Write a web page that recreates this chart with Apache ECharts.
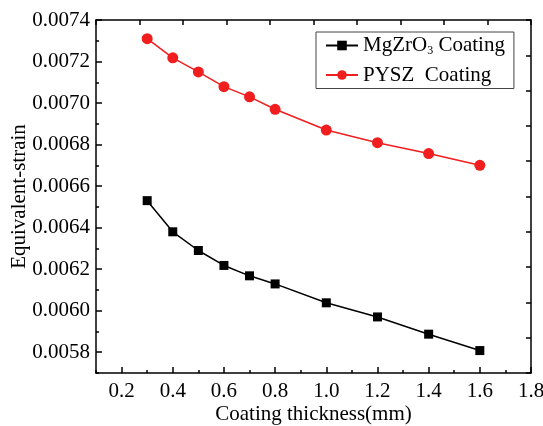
<!DOCTYPE html>
<html>
<head>
<meta charset="utf-8">
<script src="https://cdn.jsdelivr.net/npm/echarts@6/dist/echarts.min.js"></script>
<style>
  html, body { margin: 0; padding: 0; background: #fff; }
  #chart { width: 543px; height: 426px; }
</style>
</head>
<body>
<div id="chart"></div>
<script>
// 涂层厚度 (mm)
const thickness = [0.3, 0.4, 0.5, 0.6, 0.7, 0.8, 1.0, 1.2, 1.4, 1.6]
// 两种涂层的等效应变
const mgzro3Strain = [0.00653, 0.00638, 0.00629, 0.006218, 0.006168, 0.006129, 0.006038, 0.00597, 0.005887, 0.005808]
const pyszStrain = [0.00731, 0.007218, 0.00715, 0.007079, 0.00703, 0.00697, 0.00687, 0.006809, 0.006757, 0.0067]
// 刻度标签
const xTicks = [0.2, 0.4, 0.6, 0.8, 1.0, 1.2, 1.4, 1.6, 1.8]
const yTicks = [0.0058, 0.0060, 0.0062, 0.0064, 0.0066, 0.0068, 0.0070, 0.0072, 0.0074]

const serif = '"Liberation Serif", "DejaVu Serif", serif'
const chart = echarts.init(document.getElementById('chart'))

const pairs = (ys) => thickness.map((x, i) => [x, ys[i]])

const option = {
  backgroundColor: '#fff',
  animation: false,
  // 固定绘图区位置，不让标签挤压
  grid: { left: 96, right: 12, top: 20, bottom: 53, outerBoundsMode: 'none', containLabel: false },
  legend: {
    orient: 'vertical',
    left: 316,
    top: 32,
    padding: [3, 9, 3, 9],
    itemGap: 8,
    itemWidth: 32,
    itemHeight: 12,
    borderColor: '#444',
    borderWidth: 1,
    backgroundColor: '#fff',
    data: ['MgZrO3 Coating', 'PYSZ  Coating'],
    formatter: (name) => name === 'MgZrO3 Coating' ? '{a|MgZrO}{s|3}{a| Coating}' : '{a|' + name + '}',
    textStyle: {
      color: '#000',
      fontFamily: serif,
      rich: {
        a: { fontSize: 21, fontFamily: serif, color: '#000', lineHeight: 21 },
        s: { fontSize: 12, fontFamily: serif, color: '#000', padding: [10, 0, 0, 0] }
      }
    }
  },
  xAxis: [
    { // 主刻度
      type: 'value', position: 'bottom', min: 0.1, max: 1.8,
      name: 'Coating thickness(mm)', nameLocation: 'middle', nameGap: 31, nameMoveOverlap: false,
      nameTextStyle: { fontFamily: serif, fontSize: 21, color: '#000' },
      axisLine: { show: true, lineStyle: { color: '#000', width: 1.5 } },
      axisTick: { show: true, inside: true, length: 6, customValues: xTicks, lineStyle: { color: '#000', width: 1.5 } },
      axisLabel: { customValues: xTicks, formatter: (v) => v.toFixed(1), fontFamily: serif, fontSize: 21, color: '#000', margin: 8 },
      splitLine: { show: false }
    },
    { // 次刻度
      type: 'value', position: 'bottom', min: 0.1, max: 1.8, interval: 0.1,
      axisLine: { show: false },
      axisTick: { show: true, inside: true, length: 3, lineStyle: { color: '#000', width: 1.5 } },
      axisLabel: { show: false }, splitLine: { show: false }
    },
    { // 顶部镜像轴
      type: 'value', position: 'top', min: 0, max: 10, interval: 1,
      axisLine: { show: true, lineStyle: { color: '#000', width: 1.5 } },
      axisTick: { show: true, inside: true, length: 5, lineStyle: { color: '#000', width: 1.5 } },
      axisLabel: { show: false }, splitLine: { show: false }
    }
  ],
  yAxis: [
    {
      type: 'value', position: 'left', min: 0.0057, max: 0.0074,
      name: 'Equivalent-strain', nameLocation: 'middle', nameGap: 66, nameRotate: 90, nameMoveOverlap: false,
      nameTextStyle: { fontFamily: serif, fontSize: 21, color: '#000' },
      axisLine: { show: true, lineStyle: { color: '#000', width: 1.5 } },
      axisTick: { show: true, inside: true, length: 6, customValues: yTicks, lineStyle: { color: '#000', width: 1.5 } },
      axisLabel: { customValues: yTicks, formatter: (v) => v.toFixed(4), fontFamily: serif, fontSize: 21, color: '#000', margin: 6 },
      splitLine: { show: false }
    },
    {
      type: 'value', position: 'left', min: 0.0057, max: 0.0074, interval: 0.0001,
      axisLine: { show: false },
      axisTick: { show: true, inside: true, length: 3, lineStyle: { color: '#000', width: 1.5 } },
      axisLabel: { show: false }, splitLine: { show: false }
    },
    { // 右侧镜像轴
      type: 'value', position: 'right', min: 0, max: 10, interval: 1,
      axisLine: { show: true, lineStyle: { color: '#000', width: 1.5 } },
      axisTick: { show: true, inside: true, length: 5, lineStyle: { color: '#000', width: 1.5 } },
      axisLabel: { show: false }, splitLine: { show: false }
    }
  ],
  series: [
    {
      name: 'MgZrO3 Coating', type: 'line', xAxisIndex: 0, yAxisIndex: 0,
      data: pairs(mgzro3Strain),
      symbol: 'rect', symbolSize: 9,
      lineStyle: { color: '#000', width: 1.5 },
      itemStyle: { color: '#000' }
    },
    {
      name: 'PYSZ  Coating', type: 'line', xAxisIndex: 0, yAxisIndex: 0,
      data: pairs(pyszStrain),
      symbol: 'circle', symbolSize: 11,
      lineStyle: { color: '#f01e1e', width: 1.5 },
      itemStyle: { color: '#f01e1e' }
    }
  ]
}

chart.setOption(option)
</script>
</body>
</html>
